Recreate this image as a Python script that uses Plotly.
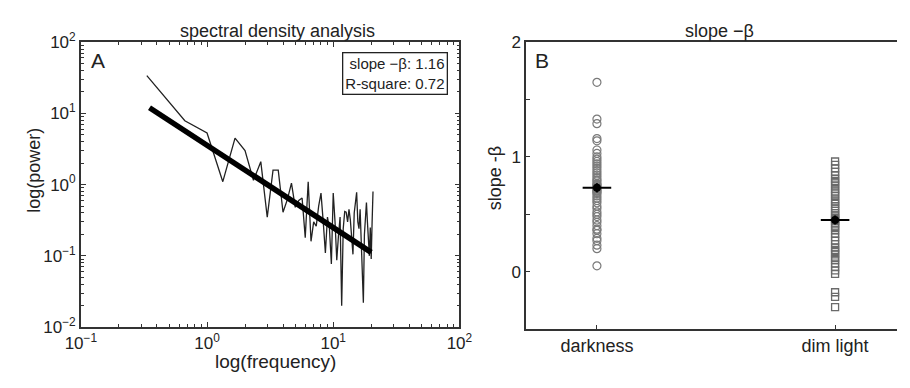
import plotly.graph_objects as go

# ---------------- data ----------------
freq_step = 1.0 / 3.0
power = [34, 7.9, 5.3, 1.1, 4.5, 3.0, 1.15, 2.1, 0.35, 1.6,
         1.6, 0.41, 0.62, 1.05, 0.48, 0.6, 0.65, 0.18, 1.1, 0.16,
         0.3, 0.26, 0.5, 0.76, 0.3, 0.11, 0.35, 0.24, 0.077, 0.76,
         0.3, 0.087, 0.19, 0.35, 0.02, 0.24, 0.42, 0.41, 0.3, 0.45,
         0.32, 0.2, 0.105, 0.4, 0.6, 0.78, 0.3, 0.24, 0.45, 0.15,
         0.05, 0.022, 0.2, 0.45, 0.56, 0.3, 0.176, 0.1, 0.25, 0.09,
         0.3, 0.8]
freq = [round((i + 1) * freq_step, 4) for i in range(len(power))]

fit_freq = [0.35, 20.0]
fit_power = [12.0, 0.112]

slope_label = "slope \u2212\u03b2: 1.16"
rsq_label = "R-square: 0.72"

x_tickvals = [0.1, 1, 10, 100]
x_ticktext = ["10<sup>\u22121</sup>", "10<sup>0</sup>", "10<sup>1</sup>", "10<sup>2</sup>"]
y_tickvals = [0.01, 0.1, 1, 10, 100]
y_ticktext = ["10<sup>\u22122</sup>", "10<sup>\u22121</sup>", "10<sup>0</sup>",
              "10<sup>1</sup>", "10<sup>2</sup>"]
minor_mult = [2, 3, 4, 5, 6, 7, 8, 9]

groups = ["darkness", "dim light"]
b_tickvals = [0, 1, 2]
b_minorvals = [-0.5, 0.5, 1.5]
darkness = [1.65, 1.33, 1.29, 1.16, 1.14, 1.06, 1.03, 1.00, 0.98, 0.96,
            0.94, 0.92, 0.90, 0.88, 0.86, 0.84, 0.82, 0.80, 0.79, 0.77,
            0.76, 0.75, 0.74, 0.73, 0.72, 0.71, 0.70, 0.69, 0.68, 0.66,
            0.64, 0.62, 0.60, 0.57, 0.55, 0.52, 0.50, 0.48, 0.45, 0.43,
            0.40, 0.37, 0.36, 0.33, 0.29, 0.27, 0.23, 0.20, 0.05]
dim_light = [0.96, 0.93, 0.90, 0.87, 0.84, 0.81, 0.79, 0.77, 0.75, 0.72,
             0.70, 0.68, 0.66, 0.63, 0.61, 0.59, 0.57, 0.55, 0.53, 0.51,
             0.49, 0.47, 0.46, 0.45, 0.44, 0.42, 0.40, 0.38, 0.36, 0.33,
             0.30, 0.27, 0.24, 0.21, 0.19, 0.17, 0.15, 0.12, 0.10, 0.07,
             0.04, 0.01, -0.02, -0.18, -0.22, -0.31]
group_means = [0.73, 0.45]
group_sem = [0.04, 0.04]
mean_halfwidth = 0.06

# ---------------- figure ----------------
W, H = 910, 388
FONT = "Liberation Sans, Arial, sans-serif"
AX = "#333333"
TXT = "#222222"


def px(x):
    return x / W


def py(y):
    return 1 - y / H


x_minor = [m * d for d in x_tickvals[:-1] for m in minor_mult]
y_minor = [m * d for d in y_tickvals[:-1] for m in minor_mult]

fig = go.Figure()

fig.add_trace(go.Scatter(x=freq, y=power, mode="lines",
                         line=dict(color="#222222", width=1.3),
                         xaxis="x", yaxis="y", showlegend=False))
fig.add_trace(go.Scatter(x=fit_freq, y=fit_power, mode="lines",
                         line=dict(color="black", width=5.5),
                         xaxis="x", yaxis="y", showlegend=False))

fig.add_trace(go.Scatter(x=[1] * len(darkness), y=darkness, mode="markers",
                         marker=dict(symbol="circle-open", size=8,
                                     color="#7a7a7a", line=dict(width=1.2)),
                         xaxis="x2", yaxis="y2", showlegend=False))
fig.add_trace(go.Scatter(x=[2] * len(dim_light), y=dim_light, mode="markers",
                         marker=dict(symbol="square-open", size=7,
                                     color="#6a6a6a", line=dict(width=1.3)),
                         xaxis="x2", yaxis="y2", showlegend=False))
fig.add_trace(go.Scatter(x=[1, 2], y=group_means, mode="markers",
                         marker=dict(symbol="circle", size=8, color="black"),
                         error_x=dict(type="constant", value=mean_halfwidth,
                                      color="black", thickness=2, width=0),
                         error_y=dict(type="data", array=group_sem,
                                      color="black", thickness=2, width=0),
                         xaxis="x2", yaxis="y2", showlegend=False))

tickfont = dict(family=FONT, size=17, color=TXT)

fig.update_layout(
    width=W, height=H,
    margin=dict(l=0, r=0, t=0, b=0),
    paper_bgcolor="white", plot_bgcolor="white",
    font=dict(family=FONT, color=TXT),
    xaxis=dict(domain=[px(67), px(458)], type="log", range=[-1, 2],
               anchor="y", showline=True, linecolor=AX, linewidth=1.5,
               mirror="allticks", ticks="inside", ticklen=5, tickcolor=AX,
               tickmode="array", tickvals=x_tickvals, ticktext=x_ticktext,
               showgrid=False, zeroline=False, tickfont=tickfont,
               minor=dict(tickmode="array", tickvals=x_minor, ticks="inside",
                          ticklen=3, tickcolor=AX, showgrid=False)),
    yaxis=dict(domain=[py(334), py(32)], type="log", range=[-2, 2],
               anchor="x", showline=True, linecolor=AX, linewidth=1.5,
               mirror="allticks", ticks="inside", ticklen=5, tickcolor=AX,
               tickmode="array", tickvals=y_tickvals, ticktext=y_ticktext,
               showgrid=False, zeroline=False, tickfont=tickfont,
               minor=dict(tickmode="array", tickvals=y_minor, ticks="inside",
                          ticklen=3, tickcolor=AX, showgrid=False)),
    xaxis2=dict(domain=[px(527), 1.0], range=[0.703, 2.26], anchor="y2",
                showline=True, linecolor=AX, linewidth=1.5, mirror=True,
                ticks="inside", ticklen=4, tickcolor=AX,
                tickmode="array", tickvals=[1, 2], ticktext=groups,
                showgrid=False, zeroline=False,
                tickfont=dict(family=FONT, size=18, color=TXT)),
    yaxis2=dict(domain=[py(336), py(32)], range=[-0.5, 2], anchor="x2",
                showline=True, linecolor=AX, linewidth=1.5, mirror=False,
                ticks="inside", ticklen=4, tickcolor=AX,
                tickmode="array", tickvals=b_tickvals,
                showgrid=False, zeroline=False, tickfont=tickfont,
                minor=dict(tickmode="array", tickvals=b_minorvals,
                           ticks="inside", ticklen=4, tickcolor=AX,
                           showgrid=False)),
)


def label(text, x, y, size, angle=0, xanchor="center"):
    return dict(text=text, x=px(x), y=py(y), xref="paper", yref="paper",
                xanchor=xanchor, yanchor="middle", textangle=angle,
                showarrow=False, font=dict(size=size, family=FONT, color=TXT))


ann = [
    label("spectral density analysis", 270, 20, 18),
    label("slope \u2212\u03b2", 727, 20, 18),
    label("log(frequency)", 268, 371, 19),
    label("log(power)", 19, 168, 18, angle=-90),
    label("slope -\u03b2", 495, 176, 18, angle=-90),
    label("A", 75, 51, 21, xanchor="left"),
    label("B", 534, 51, 21, xanchor="left"),
]
ann.append(dict(text=slope_label + "<br>" + rsq_label,
                x=px(446), y=py(42), xanchor="right", yanchor="top",
                align="right", xref="paper", yref="paper", showarrow=False,
                bordercolor=TXT, borderwidth=1.3, borderpad=2,
                bgcolor="white",
                font=dict(size=15, family=FONT, color=TXT)))
fig.update_layout(annotations=ann)

fig.write_html("out.html")
